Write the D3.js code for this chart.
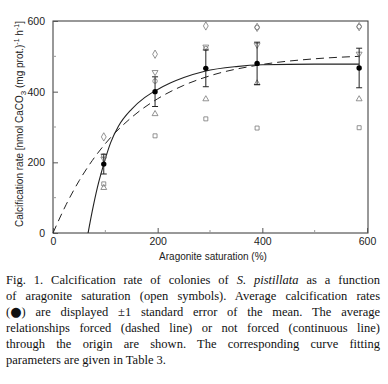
<!DOCTYPE html>
<html>
<head>
<meta charset="utf-8">
<script src="https://cdn.jsdelivr.net/npm/d3@7"></script>
<style>
  body { margin: 0; background: #fff; }
  svg { display: block; }
  .tick-label { font-family: "Liberation Sans", Arial, sans-serif; font-size: 10.5px; fill: #222; }
  .axis-title { font-family: "Liberation Sans", Arial, sans-serif; font-size: 10px; fill: #222; }
  .caption { font-family: "Liberation Serif", "Times New Roman", serif; font-size: 12.5px; fill: #111; }
</style>
</head>
<body>
<div id="chart"></div>
<script>
// aragonite saturation (%) of the treatments
var saturation = [97, 195, 292, 390, 585];

// open symbols: one colony each
var colonyDiamond  = [272, 506, 586, 582, 584];
var colonyCircle   = [218, 430, 522, 582, 584];
var colonyTriDown  = [210, 455, 527, 532, 507];
var colonyTriUp    = [128, 337, 379, 424, 379];
var colonySquare   = [139, 275, 323, 297, 298];

// mean +/- standard error
var meanRate = [195, 400, 466, 480, 467];
var seRate   = [28, 42, 52, 60, 56];

// fitted curves
var forcedX   = [0, 25, 50, 75, 100, 150, 200, 250, 300, 400, 500, 585];
var forcedY   = [0, 80, 148, 205, 253, 327, 380, 418, 445, 477, 493, 500];
var freeX     = [67, 75, 85, 97, 110, 125, 150, 175, 195, 225, 250, 290, 350, 400, 500, 585];
var freeY     = [0, 62, 130, 195, 255, 302, 350, 383, 402, 425, 440, 458, 471, 476, 478, 478];

var xTicks = [0, 200, 400, 600];
var yTicks = [0, 200, 400, 600];
var minorTicks = [100, 300, 500];

var captionLines = [
    [["Fig. 1. Calcification rate of colonies of ", ""], ["S. pistillata", "i"], [" as a function", ""]],
    [["of aragonite saturation (open symbols). Average calcification rates", ""]],
    [["(", ""], ["\u25CF", "b"], [") are displayed ", ""], ["\u00B1", ""], ["1 standard error of the mean. The average", ""]],
    [["relationships forced (dashed line) or not forced (continuous line)", ""]],
    [["through the origin are shown. The corresponding curve fitting", ""]],
    [["parameters are given in Table 3.", ""]]
];

var width = 388, height = 384;
var pLeft = 53, pRight = 367, pTop = 21, pBottom = 233;

var svg = d3.select("#chart")
    .append("svg")
    .attr("width", width)
    .attr("height", height);

var x = d3.scaleLinear().domain([0, 600]).range([pLeft, pRight]);
var y = d3.scaleLinear().domain([0, 600]).range([pBottom, pTop]);

// frame
svg.append("rect")
    .attr("x", pLeft).attr("y", pTop)
    .attr("width", pRight - pLeft + 1).attr("height", pBottom - pTop)
    .attr("fill", "none").attr("stroke", "#333").attr("stroke-width", 1);

// axes (ticks point inward)
var xAxis = d3.axisBottom(x).tickValues(xTicks).tickSize(-5).tickPadding(5);
var yAxis = d3.axisLeft(y).tickValues(yTicks).tickSize(-5).tickPadding(8);

var gx = svg.append("g").attr("transform", "translate(0," + pBottom + ")").call(xAxis);
var gy = svg.append("g").attr("transform", "translate(" + pLeft + ",0)").call(yAxis);
[gx, gy].forEach(function (g) {
    g.select(".domain").remove();
    g.selectAll("line").attr("stroke", "#555");
    g.selectAll("text").attr("class", "tick-label").attr("fill", null);
});

svg.append("g").selectAll("line").data(minorTicks).enter().append("line")
    .attr("x1", function (d) { return x(d); }).attr("x2", function (d) { return x(d); })
    .attr("y1", pBottom).attr("y2", pBottom - 3)
    .attr("stroke", "#999");
svg.append("g").selectAll("line").data(minorTicks).enter().append("line")
    .attr("y1", function (d) { return y(d); }).attr("y2", function (d) { return y(d); })
    .attr("x1", pLeft).attr("x2", pLeft + 3)
    .attr("stroke", "#999");

// axis titles
svg.append("text")
    .attr("class", "axis-title")
    .attr("x", (pLeft + pRight) / 2 + 3).attr("y", 260)
    .attr("text-anchor", "middle")
    .text("Aragonite saturation (%)");

var yt = svg.append("text")
    .attr("class", "axis-title")
    .attr("transform", "translate(23," + 124 + ") rotate(-90)")
    .attr("text-anchor", "middle");
yt.append("tspan").text("Calcification rate [nmol CaCO");
yt.append("tspan").attr("baseline-shift", "-3").attr("font-size", "8px").text("3");
yt.append("tspan").text(" (mg prot.)");
yt.append("tspan").attr("baseline-shift", "4").attr("font-size", "7px").text("-1");
yt.append("tspan").text(" h");
yt.append("tspan").attr("baseline-shift", "4").attr("font-size", "7px").text("-1");
yt.append("tspan").text("]");

// curves
var line = d3.line().curve(d3.curveMonotoneX)
    .x(function (d) { return x(d[0]); })
    .y(function (d) { return y(d[1]); });

svg.append("path")
    .attr("d", line(d3.zip(forcedX, forcedY)))
    .attr("fill", "none").attr("stroke", "#222").attr("stroke-width", 1)
    .attr("stroke-dasharray", "8,5");

svg.append("path")
    .attr("d", line(d3.zip(freeX, freeY)))
    .attr("fill", "none").attr("stroke", "#222").attr("stroke-width", 1.1);

// open symbols
var colonies = [
    { values: colonyDiamond, type: d3.symbolDiamond, size: 20, rot: 0 },
    { values: colonyCircle, type: d3.symbolCircle, size: 16, rot: 0 },
    { values: colonyTriDown, type: d3.symbolTriangle, size: 15, rot: 180 },
    { values: colonyTriUp, type: d3.symbolTriangle, size: 15, rot: 0 },
    { values: colonySquare, type: d3.symbolSquare, size: 16, rot: 0 }
];
colonies.forEach(function (c) {
    svg.append("g").selectAll("path")
        .data(c.values)
        .enter()
        .append("path")
        .attr("d", d3.symbol().type(c.type).size(c.size))
        .attr("transform", function (d, i) {
            return "translate(" + x(saturation[i]) + "," + y(d) + ") rotate(" + c.rot + ")";
        })
        .attr("fill", "none").attr("stroke", "#777").attr("stroke-width", 0.8);
});

// error bars and means
var eb = svg.append("g");
meanRate.forEach(function (m, i) {
    var cx = x(saturation[i]);
    eb.append("line")
        .attr("x1", cx).attr("x2", cx)
        .attr("y1", y(m - seRate[i])).attr("y2", y(m + seRate[i]))
        .attr("stroke", "#222");
    [m - seRate[i], m + seRate[i]].forEach(function (v) {
        eb.append("line")
            .attr("x1", cx - 3).attr("x2", cx + 3)
            .attr("y1", y(v)).attr("y2", y(v))
            .attr("stroke", "#222");
    });
});
svg.append("g").selectAll("circle")
    .data(meanRate)
    .enter()
    .append("circle")
    .attr("cx", function (d, i) { return x(saturation[i]); })
    .attr("cy", function (d) { return y(d); })
    .attr("r", 2.7)
    .attr("fill", "#000");

// caption, justified
var capLeft = 6, capRight = 380, capTop = 284, capStep = 16;
captionLines.forEach(function (parts, li) {
    var t = svg.append("text")
        .attr("class", "caption")
        .attr("x", capLeft)
        .attr("y", capTop + li * capStep);
    parts.forEach(function (p) {
        var s = t.append("tspan").text(p[0]);
        if (p[1] === "i") s.attr("font-style", "italic");
        if (p[1] === "b") s.attr("font-family", "DejaVu Sans").attr("font-size", "13px");
    });
    if (li < captionLines.length - 1) {
        var w = t.node().getComputedTextLength();
        var full = parts.map(function (p) { return p[0]; }).join("");
        var gaps = (full.match(/ /g) || []).length;
        if (gaps > 0) t.attr("word-spacing", ((capRight - capLeft) - w) / gaps);
    }
});
</script>
</body>
</html>
